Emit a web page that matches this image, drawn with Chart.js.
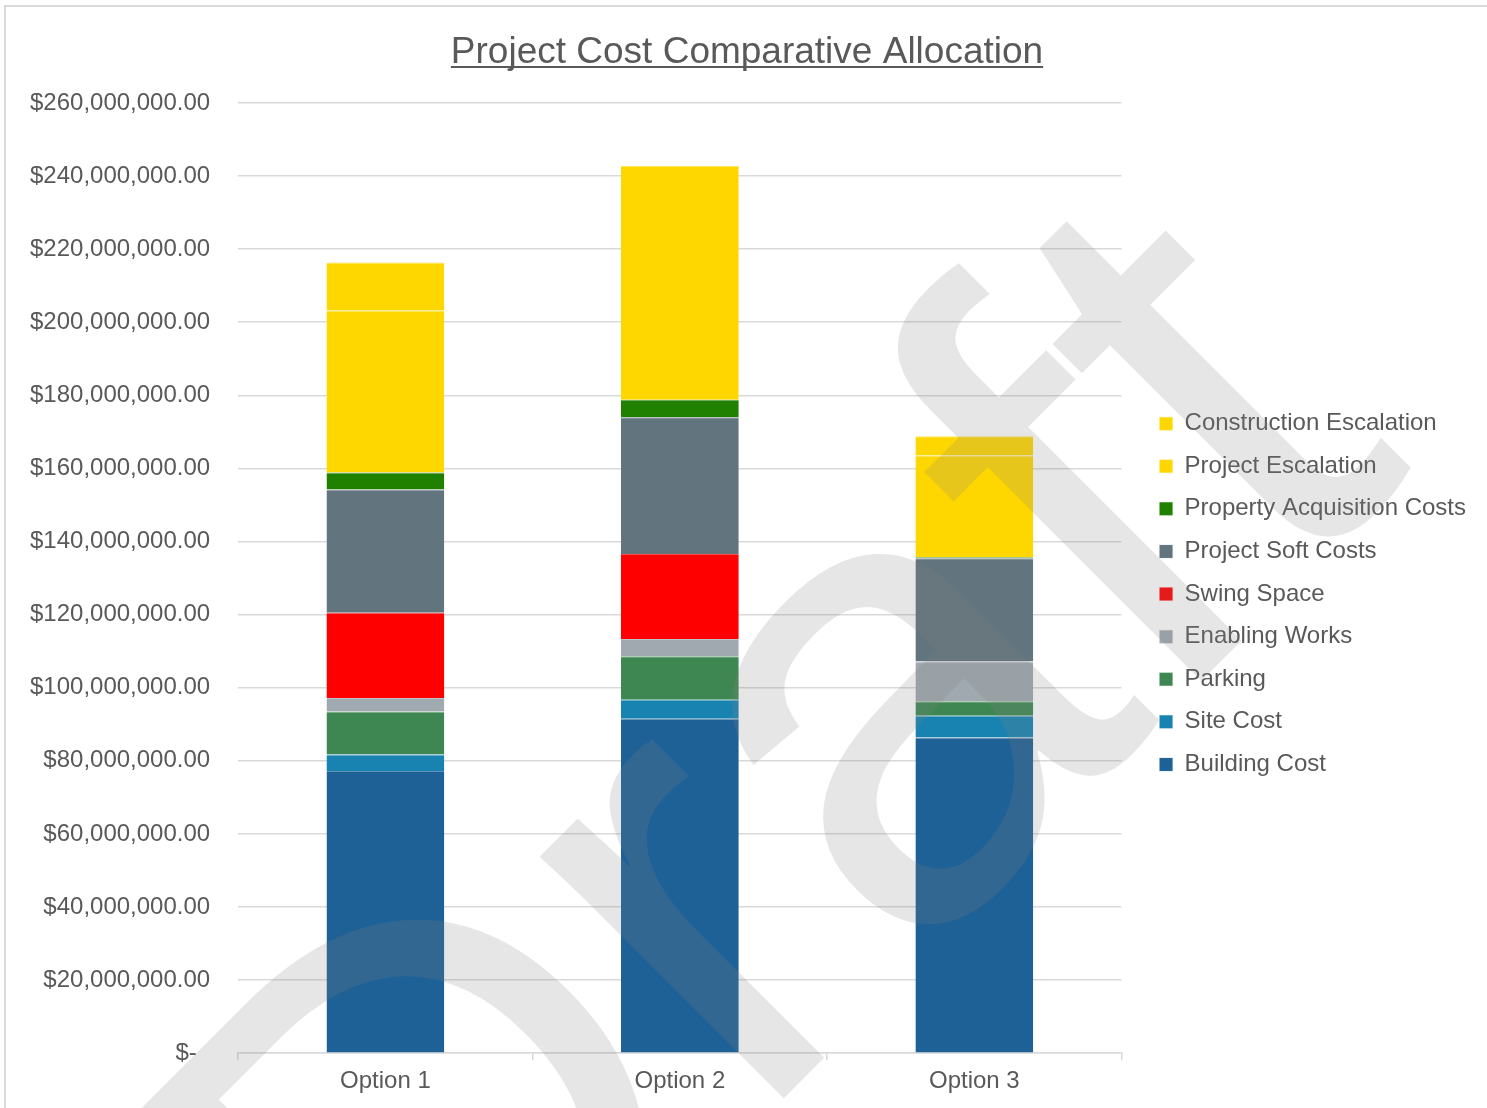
<!DOCTYPE html>
<html>
<head>
<meta charset="utf-8">
<title>Project Cost Comparative Allocation</title>
<script src="https://cdn.jsdelivr.net/npm/chart.js@4.4.1/dist/chart.umd.min.js"></script>
<style>
  html, body { margin: 0; padding: 0; background: #fff; }
  #chartCanvas { display: block; }
</style>
</head>
<body>
<canvas id="chartCanvas" width="1487" height="1108"></canvas>
<script>
// values in millions of dollars
var categories = ['Option 1', 'Option 2', 'Option 3'];
var buildingCost = [77.2, 91.5, 86.4];
var siteCost = [4.5, 5.2, 5.9];
var parking = [11.8, 11.9, 4.0];
var enablingWorks = [3.7, 4.7, 10.9];
var swingSpace = [23.3, 23.3, 0];
var projectSoftCosts = [33.7, 37.4, 28.2];
var propertyAcquisitionCosts = [4.7, 4.8, 0.3];
var projectEscalation = [44.3, 64.0, 27.8];
var constructionEscalation = [13.1, 0, 5.3];

var seriesNames = ['Building Cost', 'Site Cost', 'Parking', 'Enabling Works', 'Swing Space',
	'Project Soft Costs', 'Property Acquisition Costs', 'Project Escalation', 'Construction Escalation'];
var seriesValues = [buildingCost, siteCost, parking, enablingWorks, swingSpace,
	projectSoftCosts, propertyAcquisitionCosts, projectEscalation, constructionEscalation];
var seriesColors = ['#1E6196', '#1882B1', '#3E8753', '#A0A9AF', '#FF0000',
	'#62747D', '#208000', '#FFD700', '#FFD700'];

var yMax = 260000000;
var yStep = 20000000;
var fontFamily = "'Liberation Sans', Arial, sans-serif";
var textColor = '#595959';
var lineColor = '#d9d9d9';

function lighten(hex, amt) {
	var n = parseInt(hex.slice(1), 16);
	var r = (n >> 16) & 255, g = (n >> 8) & 255, b = n & 255;
	r = Math.round(r + (255 - r) * amt);
	g = Math.round(g + (255 - g) * amt);
	b = Math.round(b + (255 - b) * amt);
	return 'rgb(' + r + ',' + g + ',' + b + ')';
}

function money(v) {
	if (v === 0) {
		return '$-  ';
	}
	return '$' + v.toLocaleString('en-US', { minimumFractionDigits: 2, maximumFractionDigits: 2 });
}

var datasets = seriesNames.map(function(name, i) {
	return {
		label: name,
		data: seriesValues[i].map(function(v) { return v * 1000000; }),
		backgroundColor: seriesColors[i],
		borderColor: lighten(seriesColors[i], 0.3),
		borderWidth: { top: 1, bottom: 0, left: 0, right: 0 },
		borderSkipped: false,
		categoryPercentage: 1.0,
		barPercentage: 0.4
	};
});

Chart.defaults.font.family = fontFamily;
Chart.defaults.color = textColor;

var pagePlugin = {
	id: 'page',
	afterLayout: function(chart) {
		// title sits centred on the whole frame, nudge it over
		chart.titleBlock.left += 16;
	},
	beforeDraw: function(chart) {
		var ctx = chart.ctx;
		ctx.save();
		ctx.fillStyle = '#ffffff';
		ctx.fillRect(0, 0, chart.width, chart.height);
		ctx.fillStyle = lineColor;
		ctx.fillRect(4, 5, chart.width - 4, 2);
		ctx.fillRect(4, 5, 2, chart.height - 5);
		ctx.restore();
	},
	afterDraw: function(chart) {
		var ctx = chart.ctx;
		// underline under the title
		var tb = chart.titleBlock;
		var topts = chart.options.plugins.title;
		ctx.save();
		ctx.font = topts.font.size + 'px ' + fontFamily;
		var w = ctx.measureText(topts.text).width;
		var cx = (tb.left + tb.right) / 2;
		ctx.fillStyle = textColor;
		ctx.fillRect(cx - w / 2, 66, w, 2);
		ctx.restore();

		// draft watermark
		ctx.save();
		ctx.translate(420, 1462);
		ctx.rotate(-Math.PI / 4);
		ctx.font = '650px ' + fontFamily;
		ctx.fillStyle = 'rgba(128,128,128,0.2)';
		ctx.textBaseline = 'alphabetic';
		ctx.fillText('Draft', 0, 0);
		ctx.restore();
	}
};

var chartCanvas = document.getElementById('chartCanvas');
var chartObj = new Chart(chartCanvas, {
	type: 'bar',
	data: {
		labels: categories,
		datasets: datasets
	},
	options: {
		responsive: false,
		animation: false,
		devicePixelRatio: 1,
		layout: {
			padding: { left: 2, right: 11, top: 0, bottom: 5 }
		},
		plugins: {
			title: {
				display: true,
				text: 'Project Cost Comparative Allocation',
				color: textColor,
				font: { size: 37, weight: 'normal' },
				padding: { top: 30.5, bottom: 28 }
			},
			legend: {
				position: 'right',
				fullSize: false,
				reverse: true,
				maxWidth: 500,
				title: {
					display: true,
					text: '',
					font: { size: 12 },
					padding: { top: 17.6, bottom: 0 }
				},
				labels: {
					color: textColor,
					font: { size: 24 },
					boxWidth: 13,
					boxHeight: 13,
					padding: 18.6
				}
			},
			tooltip: { enabled: false }
		},
		scales: {
			x: {
				stacked: true,
				grid: {
					drawOnChartArea: false,
					drawTicks: true,
					tickLength: 7,
					color: lineColor,
					lineWidth: 1.5,
					offset: true
				},
				border: { display: true, color: lineColor, width: 1.5 },
				ticks: {
					color: textColor,
					font: { size: 24 },
					padding: 7
				}
			},
			y: {
				stacked: true,
				min: 0,
				max: yMax,
				grid: {
					color: lineColor,
					lineWidth: 1.5,
					drawTicks: false
				},
				border: { display: false },
				ticks: {
					stepSize: yStep,
					color: textColor,
					font: { size: 24 },
					padding: 28,
					callback: function(value) { return money(value); }
				}
			},
			gap: {
				type: 'linear',
				position: 'right',
				display: true,
				grid: { display: false, drawTicks: false },
				border: { display: false },
				ticks: { display: false },
				afterFit: function(scale) { scale.width = 19.4; }
			}
		}
	},
	plugins: [pagePlugin]
});
</script>
</body>
</html>
